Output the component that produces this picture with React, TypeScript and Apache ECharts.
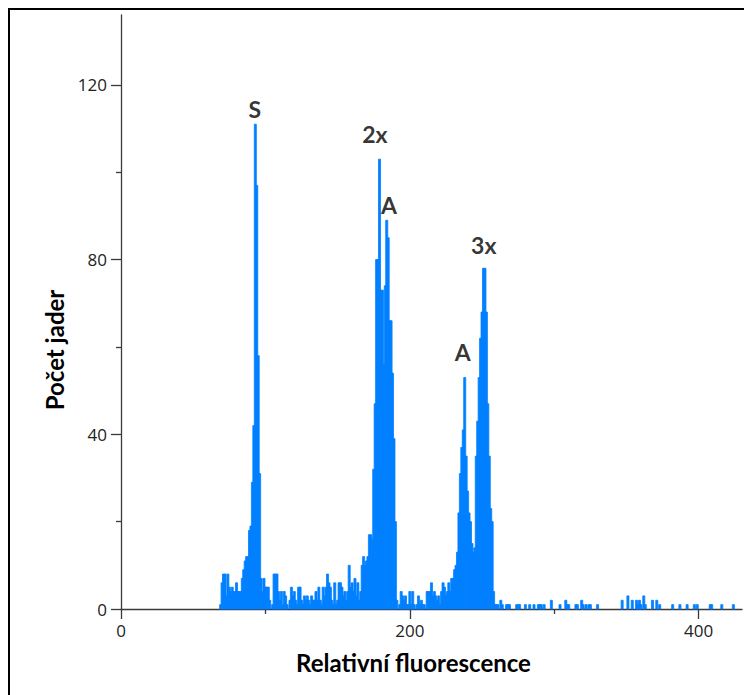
import { useEffect, useRef } from 'react';
import * as echarts from 'echarts';

// Histogram counts per fluorescence channel
const startS = 69; // channels 69..130
const countsS = [
  1, 6, 8, 8, 3, 8, 5, 4, 5, 4,
  4, 6, 4, 4, 4, 7, 9, 11, 12, 12,
  18, 19, 29, 42, 111, 97, 58, 31, 7, 4,
  7, 5, 5, 5, 2, 0, 1, 8, 8, 8,
  4, 2, 4, 1, 4, 3, 1, 0, 2, 5,
  3, 4, 2, 1, 5, 5, 2, 1, 3, 2,
  3, 2,
];
const start2x = 131; // channels 131..195
const counts2x = [
  1, 3, 2, 2, 4, 2, 5, 2, 1, 5,
  3, 5, 8, 6, 5, 2, 1, 6, 1, 2,
  6, 6, 5, 3, 4, 2, 4, 10, 5, 6,
  4, 7, 3, 6, 2, 4, 10, 12, 10, 11,
  12, 17, 17, 16, 32, 47, 80, 80, 103, 73,
  73, 56, 74, 89, 85, 66, 66, 54, 39, 20,
  2, 0, 1, 4, 3,
];
const start3x = 196; // channels 196..259
const counts3x = [
  2, 3, 1, 1, 4, 1, 4, 1, 0, 1,
  3, 1, 2, 1, 1, 0, 4, 4, 4, 6,
  3, 4, 3, 2, 3, 1, 4, 6, 5, 3,
  4, 6, 4, 7, 7, 9, 10, 13, 22, 31,
  37, 41, 53, 35, 27, 22, 20, 15, 13, 14,
  35, 43, 53, 62, 68, 78, 78, 68, 47, 35,
  23, 20, 4, 1,
];
const tailChannels = [
  260, 261, 263, 264, 267, 268, 269, 274, 275, 276, 280, 283, 286, 289, 290, 291, 293,
  298, 304, 308, 309, 310, 315, 316, 319, 320, 322, 324, 325, 330, 347, 351, 354, 357, 358,
  359, 360, 362, 363, 368, 371, 373, 382, 387, 392, 397, 399, 408, 409, 416, 424,
];
const tailCounts = [
  1, 1, 2, 1, 1, 1, 1, 1, 1, 1, 1, 1, 1, 1, 1, 1, 1,
  2, 1, 2, 1, 1, 1, 1, 2, 1, 1, 1, 1, 1, 2, 3, 2, 2, 1,
  2, 1, 3, 1, 2, 2, 1, 1, 1, 1, 1, 1, 1, 1, 1, 1,
];

// Axis ticks
const xMajorTicks = [0, 200, 400];
const xMinorTicks = [100, 300];
const yMajorTicks = [0, 40, 80, 120];
const yMinorTicks = [20, 60, 100];
const xMax = 430;
const yMax = 136;

// Peak annotations
const annotationLabels = ['S', '2x', 'A', 'A', '3x'];
const annotationX = [92.7, 175.8, 185.5, 236.7, 251.2];
const annotationY = [114.4, 108.7, 92.6, 58.9, 83.4];

const xTitle = 'Relativní fluorescence';
const yTitle = 'Počet jader';

function buildData(): number[][] {
  const out: number[][] = [];
  const push = (start: number, arr: number[]) =>
    arr.forEach((v, i) => {
      if (v > 0) out.push([start + i, v]);
    });
  push(startS, countsS);
  push(start2x, counts2x);
  push(start3x, counts3x);
  tailChannels.forEach((c, i) => out.push([c, tailCounts[i]]));
  return out;
}

const axisColor = '#3a3a3a';
const tickFont = 'Open Sans, Arial, sans-serif';
const titleFont = 'Lato, Open Sans, sans-serif';
const barColor = '#0080ff';

export default function App() {
  const ref = useRef<HTMLDivElement>(null);
  useEffect(() => {
    const chart = echarts.init(ref.current!, null, { renderer: 'svg' });
    const lineStyle = { color: axisColor, width: 1.3 };
    const option: any = {
      animation: false,
      backgroundColor: '#ffffff',
      grid: { left: 121, top: 15, right: 2, bottom: 86, containLabel: false },
      xAxis: [
        {
          type: 'value',
          min: 0,
          max: xMax,
          position: 'bottom',
          name: xTitle,
          nameLocation: 'middle',
          nameGap: 41,
          nameTextStyle: {
            fontFamily: titleFont,
            fontWeight: 'bold',
            fontSize: 24,
            color: '#000',
            padding: [0, 36, 0, 0],
          },
          axisLine: { show: true, onZero: false, lineStyle },
          axisTick: { show: true, customValues: xMajorTicks, length: 10, lineStyle },
          axisLabel: { customValues: xMajorTicks, margin: 13, fontSize: 17, color: '#222', fontFamily: tickFont },
          splitLine: { show: false },
        },
        {
          type: 'value',
          min: 0,
          max: xMax,
          position: 'bottom',
          axisLine: { show: false, onZero: false },
          axisTick: { show: true, customValues: xMinorTicks, length: 5, lineStyle },
          axisLabel: { show: false },
          splitLine: { show: false },
        },
      ],
      yAxis: [
        {
          type: 'value',
          min: 0,
          max: yMax,
          position: 'left',
          name: yTitle,
          nameLocation: 'middle',
          nameGap: 47,
          nameTextStyle: {
            fontFamily: titleFont,
            fontWeight: 'bold',
            fontSize: 24,
            color: '#000',
            padding: [0, 76, 0, 0],
          },
          axisLine: { show: true, onZero: false, lineStyle },
          axisTick: { show: true, customValues: yMajorTicks, length: 10, lineStyle },
          axisLabel: { customValues: yMajorTicks, margin: 14, fontSize: 17, color: '#222', fontFamily: tickFont },
          splitLine: { show: false },
        },
        {
          type: 'value',
          min: 0,
          max: yMax,
          position: 'left',
          axisLine: { show: false, onZero: false },
          axisTick: { show: true, customValues: yMinorTicks, length: 5, lineStyle },
          axisLabel: { show: false },
          splitLine: { show: false },
        },
      ],
      graphic: [
        {
          type: 'rect',
          shape: { x: 9, y: 9, width: 800, height: 800 },
          style: { fill: 'none', stroke: '#000', lineWidth: 2 },
          silent: true,
          z: 100,
        },
      ],
      series: [
        {
          type: 'custom',
          xAxisIndex: 0,
          yAxisIndex: 0,
          data: buildData(),
          encode: { x: 0, y: 1 },
          renderItem: (_params: any, api: any) => {
            const ch = api.value(0);
            const v = api.value(1);
            const p0 = api.coord([ch - 0.5, v]);
            const p1 = api.coord([ch + 0.5, 0]);
            return {
              type: 'rect',
              shape: { x: p0[0] - 0.3, y: p0[1], width: p1[0] - p0[0] + 0.6, height: p1[1] - p0[1] },
              style: { fill: barColor, stroke: barColor, lineWidth: 0.8 },
            };
          },
        },
        {
          type: 'scatter',
          xAxisIndex: 0,
          yAxisIndex: 0,
          symbolSize: 1,
          itemStyle: { color: 'rgba(0,0,0,0)' },
          data: annotationLabels.map((t, i) => ({ name: t, value: [annotationX[i], annotationY[i]] })),
          label: {
            show: true,
            position: 'inside',
            formatter: (p: any) => p.name,
            fontFamily: titleFont,
            fontWeight: 'bold',
            fontSize: 23,
            color: '#000',
          },
          z: 10,
        },
      ],
    };
    chart.setOption(option);
    return () => chart.dispose();
  }, []);
  return (
    <div
      ref={ref}
      style={{ position: 'fixed', left: 0, top: 0, width: 744, height: 695, background: '#fff' }}
    />
  );
}
